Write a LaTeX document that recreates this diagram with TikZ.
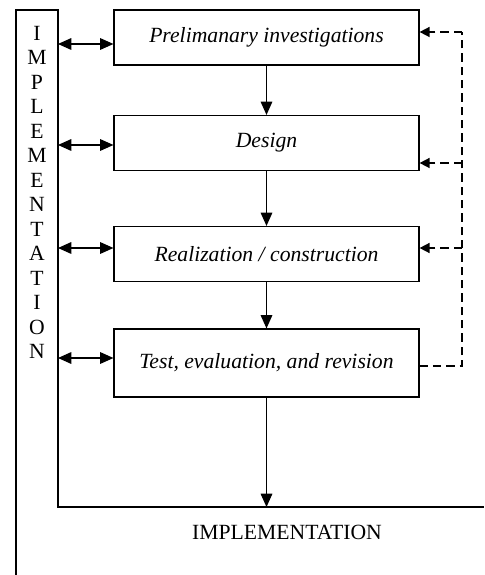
\documentclass[tikz,border=0pt]{standalone}
\usepackage{fontspec}
\setmainfont{Liberation Serif}
\usepackage{tikz}
\usetikzlibrary{arrows.meta}
\usetikzlibrary{positioning}
\tikzset{stage/.style ={draw, line width=0.7pt, minimum width=183pt, minimum height=33pt, font=\fontsize{13}{15.6}\selectfont\itshape}}
\tikzset{flow/.style ={line width=0.7pt, -{Triangle[length=8pt,width=7pt]}}}
\tikzset{link/.style ={line width=0.7pt, {Triangle[length=8pt,width=7pt]}-{Triangle[length=8pt,width=7pt]}}}
\tikzset{back/.style ={line width=0.9pt, dash pattern=on 5pt off 3pt}}
\tikzset{backtip/.style ={back, -{Triangle[length=6pt,width=6pt]}}}
\begin{document}
\begin{tikzpicture}[x=0.6pt,y=-0.6pt,font=\fontsize{13}{14.7}\selectfont]
{
\useasboundingbox (0,0) rectangle (484,575);
% frame on the left and below
\coordinate (barL) at (16,575);
\coordinate (barR) at (58,10);
\coordinate (base) at (484,507);
\draw[line width=0.7pt] (barL) |- (barR) |- (base);
\node[align=center] (impl) at (37,192.5) {I\\M\\P\\L\\E\\M\\E\\N\\T\\A\\T\\I\\O\\N};
\node (implbase) at (287,532) {IMPLEMENTATION};
% the four stages
\node[stage] (prel) at (266.5,37.5) {Prelimanary investigations};
\node[stage] (design) at (266.5,143) {Design};
\node[stage] (real) at (266.5,254) {Realization / construction};
\node[stage, minimum height=40.8pt] (test) at (266.5,363) {Test, evaluation, and revision};
\draw[flow] (prel) -- (design);
\draw[flow] (design) -- (real);
\draw[flow] (real) -- (test);
\draw[flow] (test) -- (test.south |- base);
% links to the frame
\draw[link] ([yshift=-3.9pt]prel.west -| barR) -- ([yshift=-3.9pt]prel.west);
\draw[link] ([yshift=-1.2pt]design.west -| barR) -- ([yshift=-1.2pt]design.west);
\draw[link] ([yshift=3.6pt]real.west -| barR) -- ([yshift=3.6pt]real.west);
\draw[link] ([yshift=3pt]test.west -| barR) -- ([yshift=3pt]test.west);
% feedback
\coordinate (fb) at (462,0);
\draw[back] ([yshift=-1.8pt]test.east) -| ([yshift=3.3pt]prel.east -| fb);
\draw[backtip] ([yshift=3.3pt]prel.east -| fb) -- ([yshift=3.3pt]prel.east);
\draw[backtip] ([yshift=-12pt]design.east -| fb) -- ([yshift=-12pt]design.east);
\draw[backtip] ([yshift=3.6pt]real.east -| fb) -- ([yshift=3.6pt]real.east);
}
\end{tikzpicture}
\end{document}
